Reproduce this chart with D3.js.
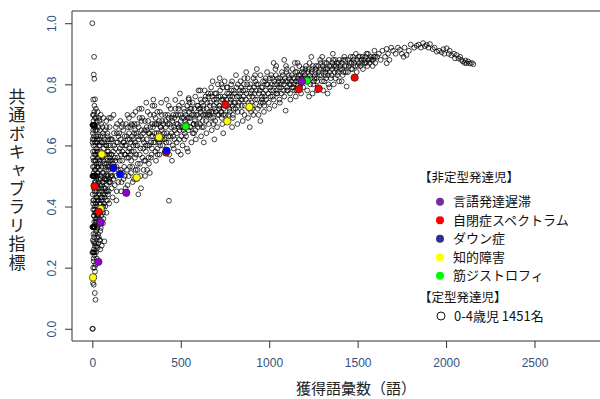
<!DOCTYPE html>
<html>
<head>
<meta charset="utf-8">
<script src="https://cdn.jsdelivr.net/npm/d3@7"></script>
<style>
  body { margin: 0; background: #fff; }
  svg { display: block; }
</style>
</head>
<body>
<svg id="chart" width="600" height="399"></svg>
<script>
// typical kids 0-4y : [vocabulary size, common vocabulary index]
const typicalLeft = [
  [0,1.0],[10,.89],[8,.832],[11,.818],[15,.751],[0,0],[3,0],
  [0,.667],[2,.667],[4,.667],[6,.667],[8,.667],[10,.667],[12,.667],[15,.667],
  [0,.5],[2,.5],[4,.5],[6,.5],[8,.5],[10,.5],[12,.5],[15,.5],[18,.5],[20,.5],[25,.5],[30,.5],
  [0,.333],[2,.333],[4,.333],[6,.333],[8,.333],[10,.333],[14,.333],
  [0,.25],[3,.25],[6,.25],[10,.25],[14,.25],
  [5,.75],[12,.73],[20,.72],[8,.70],[30,.71],[15,.69],[25,.68],[40,.68],[3,.64],[18,.65],[35,.66],[50,.67],
  [10,.62],[22,.63],[45,.63],[60,.64],[6,.60],[28,.61],[38,.60],[55,.61],[70,.62],[14,.58],[24,.59],[33,.57],
  [48,.58],[65,.59],[80,.60],[4,.56],[19,.55],[29,.56],[42,.55],[58,.56],[75,.57],[90,.58],[11,.53],[26,.53],
  [36,.54],[52,.53],[68,.54],[85,.55],[100,.56],[7,.51],[17,.52],[31,.51],[44,.52],[62,.51],[78,.52],[95,.53],
  [13,.48],[23,.49],[34,.48],[47,.49],[57,.48],[72,.49],[88,.50],[105,.51],[9,.46],[21,.47],[32,.46],[41,.45],
  [54,.47],[66,.46],[82,.47],[98,.48],[16,.44],[27,.43],[37,.44],[49,.43],[61,.44],[76,.45],[92,.45],[110,.46],
  [5,.42],[19,.41],[30,.42],[43,.41],[53,.42],[69,.43],[86,.42],[12,.39],[24,.40],[35,.39],[46,.38],[58,.40],
  [73,.40],[95,.41],[8,.37],[18,.36],[28,.37],[40,.36],[51,.37],[63,.36],[80,.38],[15,.34],[25,.35],[38,.34],
  [48,.33],[60,.345],[22,.32],[33,.31],[45,.32],[10,.30],[28,.30],[40,.29],[8,.285],[20,.28],[35,.28],[68,.286],
  [53,.272],[30,.265],[15,.27],[45,.26],[12,.24],[25,.23],[8,.22],[18,.21],[5,.20],[15,.187],[10,.17],[8,.144],
  [14,.117],[18,.095],[433,.419],
  [3,.70],[9,.66],[16,.61],[21,.57],[27,.51],[13,.45],[6,.47],[23,.43],[31,.39],[20,.38],[11,.35],[4,.41],
  [26,.58],[39,.62],[44,.57],[50,.50],[56,.45],[62,.40],[67,.49],[74,.53],[83,.50],[91,.52],[102,.48],[108,.53],
  [1,.61],[4,.58],[7,.55],[9,.63],[12,.57],[14,.52],[17,.6],[19,.48],[22,.54],[24,.45],[27,.62],[29,.47],
  [32,.58],[34,.53],[37,.49],[39,.56],[42,.6],[44,.47],[46,.54],[49,.61],[51,.46],[54,.56],[57,.51],[59,.63],
  [61,.48],[64,.55],[67,.61],[69,.5],[71,.57],[74,.46],[77,.6],[79,.54],[81,.49],[84,.58],[87,.53],[89,.62],
  [93,.48],[97,.55],[101,.6],[104,.5],[107,.57],[111,.62],[114,.55],[119,.49],[2,.44],[5,.39],[8,.42],[11,.37],
  [13,.4],[16,.38],[19,.35],[21,.42],[24,.38],[26,.36],[29,.4],[32,.37],[36,.42],[39,.38],[42,.35],[47,.41],
  [52,.39],[56,.43],[61,.38],[66,.41],[71,.44],[77,.42],[83,.45],[6,.31],[11,.28],[17,.31],[23,.27],[29,.33],
  [36,.3],[44,.29],[13,.33],[3,.29],[7,.23],[13,.2],[21,.25],[4,.15],[9,.26],[2,.62],[6,.68],[11,.71],[16,.66],
  [21,.69],[26,.65],[31,.63],[36,.69],[43,.65],[48,.7],[57,.66],[63,.69],[72,.65],[79,.68],[87,.63],[94,.69],
  [3,.53],[5,.65],[14,.55]
];
const typicalBand = [
  [85,.64],[92,.60],[98,.66],[103,.55],[108,.62],[112,.50],[118,.58],[122,.64],[127,.47],[131,.55],[135,.61],
  [140,.67],[145,.52],[150,.58],[88,.44],[96,.49],[115,.43],[125,.53],[138,.45],[148,.63],[80,.66],[105,.69],
  [120,.70],[142,.56],[110,.57],[130,.59],[100,.62],[95,.57],[117,.54],[133,.50],
  [155,.55],[160,.62],[165,.48],[170,.58],[175,.65],[180,.53],[185,.60],[190,.67],[195,.56],[200,.62],[205,.50],
  [210,.59],[215,.66],[220,.55],[225,.63],[230,.70],[235,.58],[240,.61],[245,.52],[250,.64],[158,.68],[172,.51],
  [188,.46],[198,.70],[212,.53],[228,.48],[238,.67],[168,.60],[182,.57],[202,.58],[218,.61],[232,.60],[248,.57],
  [162,.57],[178,.61],[194,.63],[208,.64],[222,.58],[242,.65],[225,.667],[260,.44],[275,.46],[252,.49],
  [255,.60],[262,.66],[268,.57],[275,.63],[282,.69],[288,.59],[295,.65],[300,.55],[308,.62],[315,.68],[322,.60],
  [328,.66],[335,.57],[342,.63],[348,.70],[355,.61],[362,.67],[368,.59],[375,.64],[382,.71],[388,.62],[395,.68],
  [265,.72],[290,.52],[305,.74],[320,.54],[340,.73],[360,.55],[380,.57],[398,.60],[258,.63],[285,.62],[310,.65],
  [332,.61],[352,.64],[372,.67],[392,.65],[270,.54],[298,.50],[325,.51],[345,.75],[365,.62],[385,.66],[278,.68],
  [302,.60],[318,.64],[338,.67],[358,.69],[378,.61],[394,.63],
  [123,.6],[128,.56],[133,.66],[137,.53],[143,.61],[147,.48],[152,.64],[156,.59],[161,.52],[166,.66],[169,.55],
  [174,.61],[177,.49],[183,.63],[187,.57],[192,.6],[196,.52],[201,.66],[206,.56],[211,.62],[216,.57],[221,.67],
  [226,.53],[231,.62],[236,.64],[241,.56],[246,.6],[253,.67],[257,.54],[263,.62],[267,.69],[272,.59],[277,.65],
  [283,.56],[287,.64],[292,.61],[297,.68],[303,.58],[307,.66],[312,.6],[317,.56],[323,.64],[327,.7],[333,.63],
  [337,.59],[343,.66],[347,.61],[353,.67],[357,.58],[363,.64],[367,.71],[373,.62],[377,.68],[383,.6],[387,.66],
  [393,.7],[397,.62],[139,.64],[171,.67],[207,.69],[244,.71],[279,.72],[313,.71],[351,.73],[389,.74],[184,.5],
  [219,.51],[256,.52],[293,.55],[331,.56],[369,.57],[136,.42],[163,.45],[199,.47],[236,.49],[272,.5],[310,.52],
  [405,.64],[412,.70],[418,.61],[425,.67],[432,.73],[440,.63],[448,.69],[455,.60],[462,.66],[470,.72],[478,.64],
  [485,.70],[492,.62],[500,.68],[508,.74],[515,.65],[522,.71],[530,.63],[538,.69],[545,.75],[552,.66],[560,.72],
  [568,.64],[575,.70],[582,.76],[590,.67],[598,.73],[410,.58],[435,.57],[460,.59],[485,.58],[510,.60],[535,.59],
  [560,.61],[585,.62],[420,.75],[469,.749],[545,.755],[495,.77],[415,.66],[445,.66],[475,.67],[505,.66],[525,.68],
  [555,.69],[580,.68],[430,.63],[458,.70],[488,.66],[518,.69],[548,.71],[572,.67],[595,.70],[450,.55],[500,.57],
  [540,.58],[600,.78],
  [403,.67],[408,.62],[414,.68],[421,.64],[427,.7],[433,.61],[438,.67],[443,.72],[447,.64],[452,.68],[457,.63],
  [463,.69],[467,.65],[473,.7],[477,.61],[483,.67],[487,.72],[493,.65],[497,.7],[503,.63],[507,.69],[513,.66],
  [517,.72],[523,.64],[527,.7],[533,.67],[537,.73],[543,.65],[547,.69],[553,.72],[557,.66],[563,.7],[567,.74],
  [573,.67],[577,.72],[583,.65],[587,.7],[593,.73],[597,.66],
  [605,.69],[612,.75],[620,.66],[628,.72],[635,.78],[642,.70],[650,.74],[658,.67],[665,.73],[672,.79],[680,.71],
  [688,.75],[695,.68],[702,.74],[710,.80],[718,.72],[725,.76],[732,.69],[740,.75],[748,.81],[755,.73],[762,.77],
  [770,.70],[778,.76],[785,.80],[792,.73],[800,.78],[615,.63],[645,.64],[675,.65],[705,.66],[735,.67],[765,.68],
  [795,.69],[625,.70],[660,.71],[690,.72],[720,.73],[750,.74],[780,.74],[640,.76],[700,.77],[760,.79],[630,.61],
  [690,.62],[740,.64],[790,.66],[655,.77],[715,.70],[775,.72],[610,.72],[670,.69],[730,.71],[800,.74],[720,.82],
  [680,.81],
  [603,.72],[608,.67],[613,.71],[618,.74],[623,.68],[627,.73],[633,.7],[637,.75],[643,.68],[647,.72],[653,.7],
  [657,.76],[663,.7],[667,.74],[673,.71],[677,.76],[683,.69],[687,.73],[693,.77],[697,.71],[703,.75],[707,.7],
  [713,.76],[717,.73],[723,.78],[727,.71],[733,.75],[737,.79],[743,.72],[747,.76],[753,.7],[757,.75],[763,.79],
  [767,.73],[773,.77],[777,.71],[783,.75],[787,.78],[793,.76],[797,.72],[465,.62],[520,.62],[575,.64],[630,.66],
  [685,.67],[740,.7],[795,.7],[430,.69],[490,.73],[550,.74],[610,.78],[670,.77],[730,.8],[790,.81],
  [808,.74],[815,.79],[822,.71],[830,.76],[838,.81],[845,.73],[852,.78],[860,.70],[868,.75],[875,.80],[882,.74],
  [890,.79],[898,.71],[905,.76],[912,.82],[920,.75],[928,.80],[935,.72],[942,.77],[950,.83],[958,.76],[965,.81],
  [972,.73],[980,.78],[988,.84],[995,.77],[820,.67],[850,.68],[880,.69],[910,.70],[940,.70],[970,.71],[1000,.72],
  [835,.77],[865,.78],[895,.77],[925,.78],[955,.79],[985,.80],[812,.83],[870,.84],[930,.85],[840,.75],[900,.74],
  [960,.75],[890,.66],[950,.68],[825,.73],[885,.72],[945,.73],[975,.76],[855,.76],[915,.79],
  [803,.77],[810,.72],[817,.76],[823,.8],[828,.74],[833,.78],[842,.79],[847,.75],[857,.8],[862,.73],[872,.77],
  [878,.82],[887,.76],[893,.8],[902,.78],[907,.73],[917,.77],[922,.81],[932,.75],[937,.8],[947,.78],[952,.74],
  [962,.79],[967,.77],[977,.81],[982,.75],[992,.8],[997,.74],[860,.82],[920,.83],[980,.82],[845,.71],[905,.72],
  [965,.74],
  [1005,.79],[1012,.83],[1020,.76],[1028,.81],[1035,.85],[1042,.78],[1050,.82],[1058,.75],[1065,.80],[1072,.84],
  [1080,.78],[1088,.82],[1095,.86],[1102,.79],[1110,.83],[1118,.77],[1125,.81],[1132,.85],[1140,.80],[1148,.84],
  [1155,.78],[1162,.82],[1170,.86],[1178,.80],[1185,.84],[1192,.79],[1200,.83],[1030,.73],[1060,.74],[1093,.714],
  [1120,.75],[1150,.76],[1180,.77],[1015,.80],[1045,.80],[1075,.81],[1105,.81],[1135,.82],[1165,.81],[1195,.81],
  [1025,.87],[1085,.88],[1145,.87],[1040,.77],[1070,.77],[1100,.78],[1130,.79],[1160,.80],[1190,.82],[1008,.76],
  [1055,.79],[1115,.80],[1175,.83],
  [1003,.82],[1010,.78],[1018,.82],[1023,.78],[1032,.8],[1038,.83],[1047,.77],[1053,.81],[1062,.82],[1068,.79],
  [1077,.83],[1083,.8],[1092,.81],[1098,.84],[1107,.78],[1113,.82],[1122,.8],[1128,.83],[1137,.79],[1143,.82],
  [1152,.81],[1158,.84],[1167,.83],[1173,.79],[1182,.82],[1188,.85],[1197,.84],[1040,.86],[1100,.85],[1160,.87],
  [1025,.75],[1085,.76],[1145,.78],
  [1205,.85],[1212,.81],[1220,.84],[1228,.87],[1235,.82],[1242,.85],[1250,.80],[1258,.83],[1265,.86],[1272,.81],
  [1280,.84],[1288,.88],[1295,.83],[1302,.86],[1310,.81],[1318,.84],[1325,.87],[1332,.83],[1340,.86],[1348,.82],
  [1355,.85],[1362,.88],[1370,.84],[1378,.86],[1385,.83],[1392,.87],[1400,.85],[1215,.78],[1245,.77],[1275,.79],
  [1305,.78],[1335,.80],[1365,.80],[1395,.81],[1230,.83],[1260,.84],[1290,.85],[1320,.85],[1350,.86],[1380,.85],
  [1238,.89],[1300,.89],[1360,.90],[1255,.82],[1315,.83],[1375,.82],[1225,.76],[1330,.77],
  [1203,.82],[1208,.86],[1217,.82],[1223,.85],[1232,.8],[1240,.84],[1247,.86],[1253,.81],[1262,.85],[1268,.82],
  [1277,.86],[1283,.83],[1292,.87],[1298,.81],[1307,.85],[1313,.87],[1322,.82],[1328,.85],[1337,.88],[1343,.84],
  [1352,.83],[1358,.87],[1367,.86],[1373,.88],[1382,.87],[1388,.84],[1397,.88],[1270,.78],[1340,.79],
  [1410,.87],[1420,.84],[1430,.88],[1438,.793],[1450,.86],[1460,.89],[1470,.85],[1474,.89],[1480,.87],
  [1490,.90],[1500,.86],[1513,.891],[1520,.88],[1530,.85],[1540,.87],[1550,.90],[1560,.88],[1570,.882],[1579,.88],
  [1590,.89],[1600,.87],[1415,.83],[1445,.84],[1495,.84],[1525,.87],[1555,.86],[1585,.86],[1435,.86],[1465,.87],
  [1545,.89],[1595,.91],[1505,.89],[1425,.89],[1485,.82],
  [1403,.86],[1412,.85],[1418,.88],[1427,.86],[1433,.84],[1447,.88],[1455,.87],[1463,.85],[1477,.88],[1487,.86],
  [1497,.88],[1508,.87],[1517,.86],[1528,.89],[1537,.88],[1548,.87],[1558,.9],[1567,.87],[1575,.89],[1588,.88],
  [1598,.89],[1410,.81],
  [1620,.90],[1640,.91],[1655,.89],[1664,.916],[1664,.869],[1672,.90],[1690,.92],[1700,.91],[1715,.90],[1728,.92],
  [1739,.913],[1750,.90],[1765,.92],[1777,.896],[1790,.91],[1800,.93],[1630,.88],[1680,.88],[1760,.89],[1610,.89],
  [1820,.92],[1834,.926],[1845,.93],[1858,.92],[1870,.935],[1880,.925],[1890,.929],[1900,.92],[1909,.932],
  [1925,.915],[1935,.92],[1947,.907],[1960,.91],[1975,.905],[1990,.9],[2003,.918],[2015,.9],[2030,.895],[2045,.9],
  [2060,.896],[2070,.885],[2085,.88],[2095,.875],[2105,.87],[2116,.869],[2125,.875],[2135,.868],[2145,.87],
  [2154,.866],[1985,.915],[2020,.91],[2050,.885],[2080,.89],[2110,.878]
];

// atypical kids, one array per group
const muscular     = [[528,.662],[1214,.812]];
const intellectual = [[53,.571],[251,.495],[47,.392],[4,.168],[377,.627],[888,.726],[763,.679]];
const langDelay    = [[1185,.810],[192,.445],[47,.349],[34,.219]];
const autism       = [[13,.466],[36,.383],[417,.577],[752,.733],[1168,.784],[1280,.786],[1483,.822]];
const down         = [[119,.526],[157,.506],[420,.583]];

const xTicks = [0, 500, 1000, 1500, 2000, 2500];
const yTicks = [0, 0.2, 0.4, 0.6, 0.8, 1.0];

const legendItems = ["言語発達遅滞", "自閉症スペクトラム", "ダウン症", "知的障害", "筋ジストロフィ"];
const legendColors = ["#7030a0", "#ff0000", "#2e3192", "#ffff00", "#00ff00"];

const svg = d3.select("#chart");
const mLeft = 72, mRight = 601, mTop = 11, mBottom = 341;

const x = d3.scaleLinear().domain([-115, 2876]).range([mLeft, mRight]);
const y = d3.scaleLinear().domain([-0.04, 1.04]).range([mBottom, mTop]);

const tickColor = "#34507a";

/** x axis */
const gx = svg.append("g")
  .attr("transform", `translate(0,${mBottom})`)
  .call(d3.axisBottom(x).tickValues(xTicks).tickSize(7).tickPadding(10).tickFormat(d3.format("d")));
gx.select(".domain").remove();
gx.selectAll("line").attr("stroke", "#333");
gx.selectAll("text").attr("font-family", "Liberation Sans, Arial, sans-serif")
  .attr("font-size", 12).attr("fill", tickColor);

/** y axis, labels rotated like R */
const gy = svg.append("g")
  .attr("transform", `translate(${mLeft},0)`)
  .call(d3.axisLeft(y).tickValues(yTicks).tickSize(7).tickFormat(d3.format(".1f")));
gy.select(".domain").remove();
gy.selectAll("line").attr("stroke", "#333");
gy.selectAll("text")
  .attr("transform", "rotate(-90)")
  .attr("x", 0).attr("y", -16).attr("dy", 0)
  .attr("text-anchor", "middle")
  .attr("font-family", "Liberation Sans, Arial, sans-serif")
  .attr("font-size", 12).attr("fill", tickColor);

/** plot box */
svg.append("path")
  .attr("d", `M${mRight},${mTop}H${mLeft}V${mBottom}H${mRight}`)
  .attr("fill", "none").attr("stroke", "#333").attr("stroke-width", 1);

/** open circles */
const plot = svg.append("g");
plot.selectAll(".typ")
  .data(typicalLeft.concat(typicalBand))
  .join("circle")
  .attr("class", "typ")
  .attr("cx", d => x(d[0])).attr("cy", d => y(d[1]))
  .attr("r", 2.4)
  .attr("fill", "none").attr("stroke", "#000").attr("stroke-width", 0.75);

/** coloured groups */
const groups = [
  [intellectual, "#ffff00"], [muscular, "#00ff00"], [langDelay, "#9400d3"],
  [autism, "#ff0000"], [down, "#0000ff"]
];
groups.forEach(([data, col]) => {
  plot.append("g").selectAll("circle")
    .data(data)
    .join("circle")
    .attr("cx", d => x(d[0])).attr("cy", d => y(d[1]))
    .attr("r", 3.7)
    .attr("fill", col).attr("stroke", "#222").attr("stroke-width", 0.7);
});

/** axis titles */
const jp = "'Noto Sans CJK JP', sans-serif";
svg.append("text")
  .attr("x", 356).attr("y", 394)
  .attr("text-anchor", "middle")
  .attr("font-family", jp).attr("font-size", 15).attr("fill", "#222")
  .text("獲得語彙数（語）");

svg.append("text")
  .attr("x", 17).attr("y", 88)
  .style("writing-mode", "vertical-rl")
  .style("text-orientation", "upright")
  .style("letter-spacing", "1.4px")
  .attr("font-family", jp).attr("font-size", 17).attr("fill", "#222")
  .text("共通ボキャブラリ指標");

/** legend */
const lg = svg.append("g").attr("font-family", jp).attr("fill", "#111");
lg.append("text").attr("x", 419).attr("y", 181.5).attr("font-size", 12.5)
  .text("【非定型発達児】");
legendItems.forEach((t, i) => {
  const cy = 201.7 + i * 18.5;
  lg.append("circle").attr("cx", 440).attr("cy", cy).attr("r", 4).attr("fill", legendColors[i]);
  lg.append("text").attr("x", 453).attr("y", cy + 4.5).attr("font-size", 13).text(t);
});
lg.append("text").attr("x", 419).attr("y", 301.5).attr("font-size", 12.5)
  .text("【定型発達児】");
lg.append("circle").attr("cx", 441).attr("cy", 316).attr("r", 4)
  .attr("fill", "none").attr("stroke", "#111").attr("stroke-width", 1);
lg.append("text").attr("x", 454).attr("y", 320.5).attr("font-size", 13).text("0-4歳児 1451名");
</script>
</body>
</html>
